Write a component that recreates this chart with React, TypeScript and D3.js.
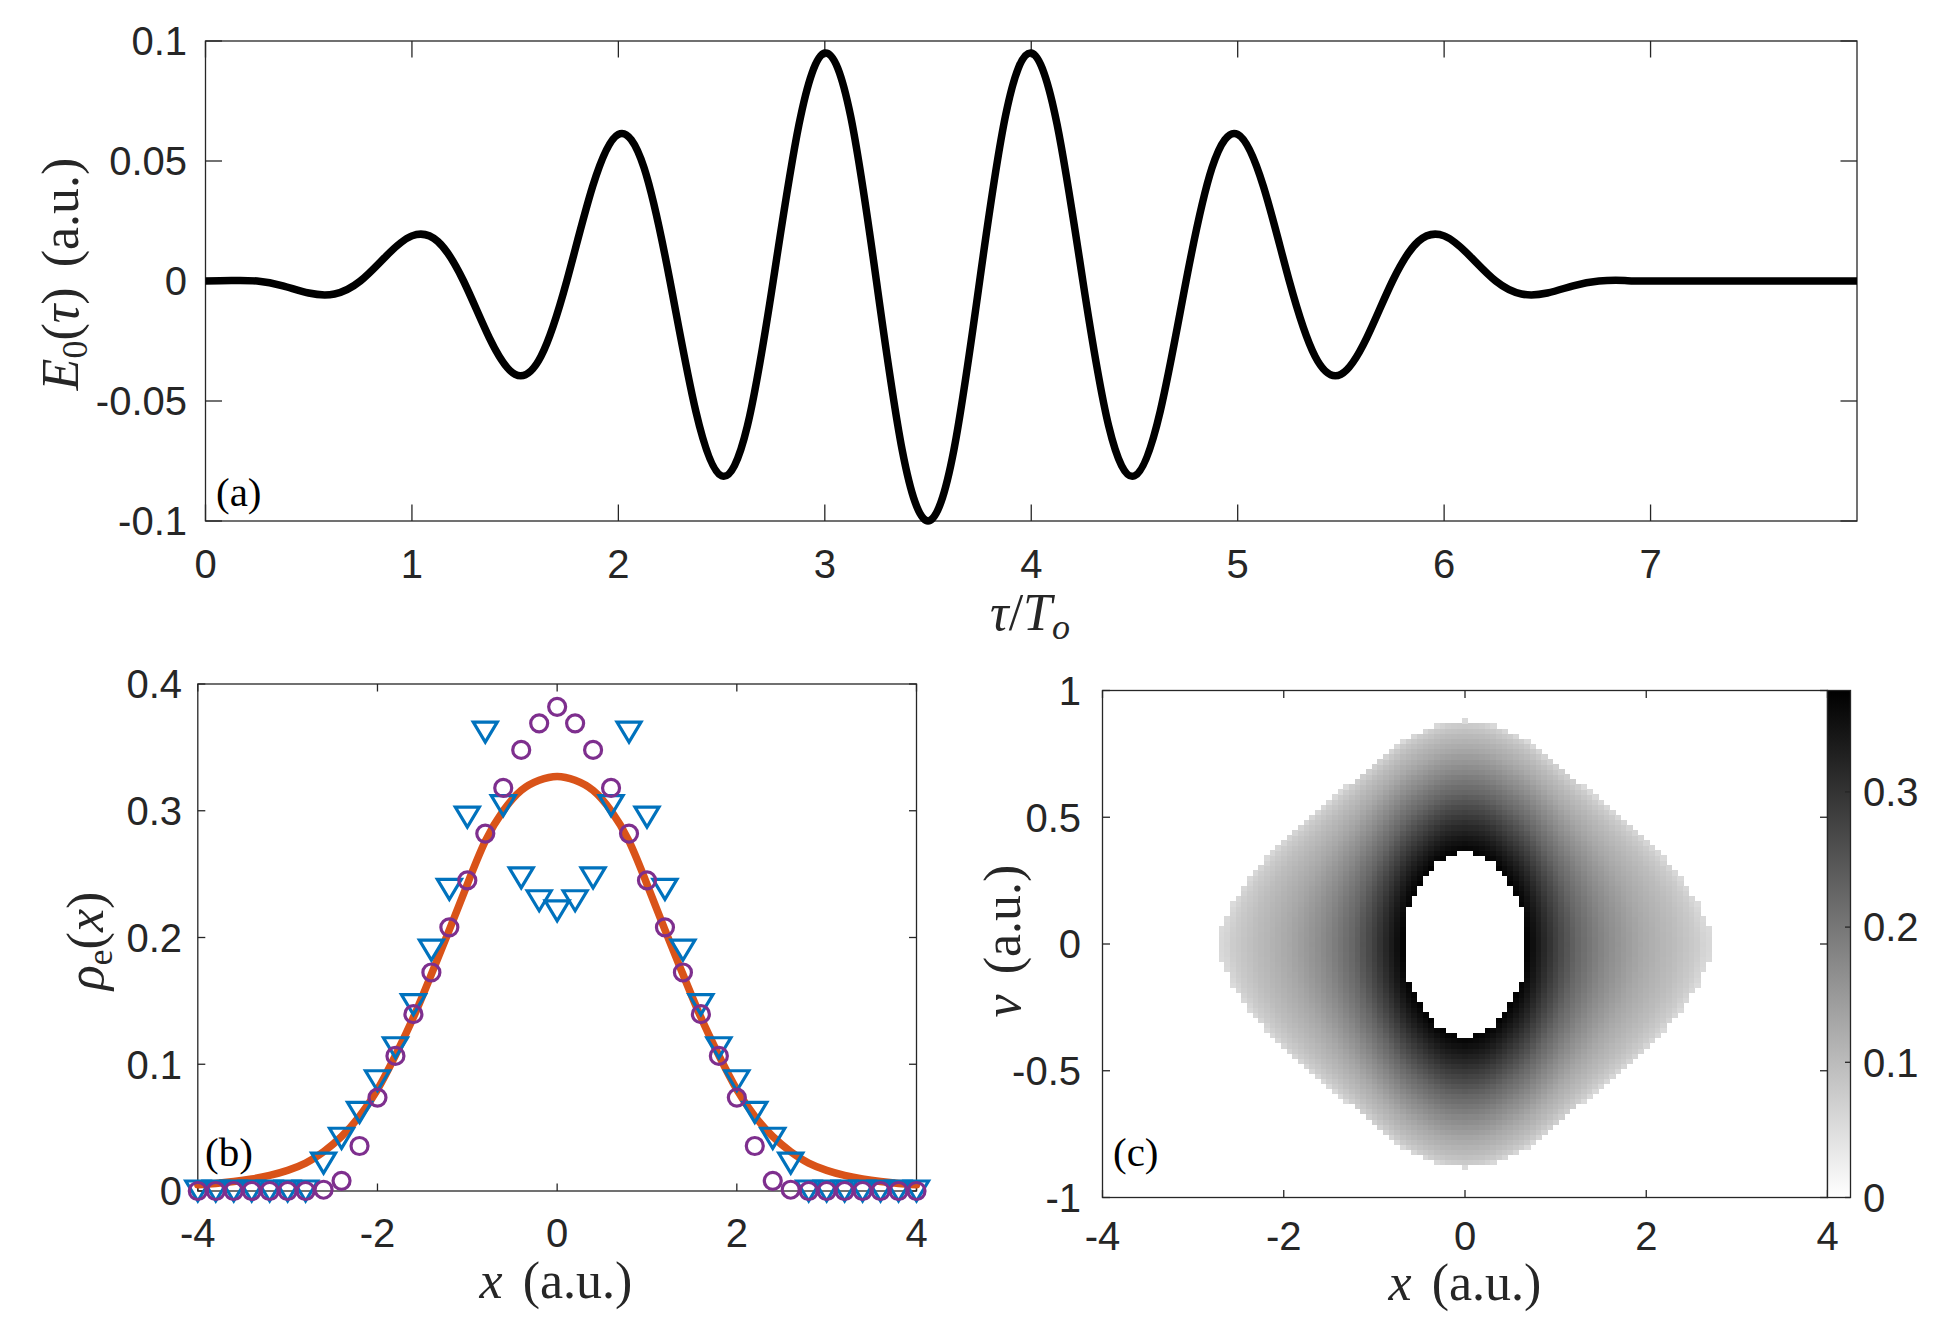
import React, { useMemo } from 'react';
import * as d3 from 'd3';

// ---------- Panel (a) data ----------
const tau = [
  0, 0.125, 0.25, 0.375, 0.5, 0.625, 0.75, 0.875,
  1, 1.125, 1.25, 1.375, 1.5, 1.625, 1.75, 1.875,
  2, 2.125, 2.25, 2.375, 2.5, 2.625, 2.75, 2.875,
  3, 3.125, 3.25, 3.375, 3.5, 3.625, 3.75, 3.875,
  4, 4.125, 4.25, 4.375, 4.5, 4.625, 4.75, 4.875,
  5, 5.125, 5.25, 5.375, 5.5, 5.625, 5.75, 5.875,
  6, 6.125, 6.25, 6.375, 6.5, 6.625, 6.75, 6.875,
  7, 7.5, 8,
];
const efield = [
  0, 0.0002, 0, -0.002, -0.005, -0.0054, 0, 0.0104,
  0.0188, 0.0165, 0, -0.0237, -0.0389, -0.0314, 0, 0.0393,
  0.0611, 0.047, 0, -0.0542, -0.0812, -0.0604, 0, 0.0653,
  0.095, 0.0687, 0, -0.0705, -0.1, -0.0705, 0, 0.0687,
  0.095, 0.0653, 0, -0.0604, -0.0812, -0.0542, 0, 0.047,
  0.0611, 0.0393, 0, -0.0314, -0.0389, -0.0237, 0, 0.0165,
  0.0188, 0.0104, 0, -0.0054, -0.005, -0.002, 0, 0.0002,
  0, 0, 0,
];
const aXTicks = [0, 1, 2, 3, 4, 5, 6, 7];
const aYTicks = [-0.1, -0.05, 0, 0.05, 0.1];
const aYTickLabels = ['-0.1', '-0.05', '0', '0.05', '0.1'];

// ---------- Panel (b) data ----------
const bX = [
  -4, -3.8, -3.6, -3.4, -3.2, -3, -2.8, -2.6, -2.4, -2.2, -2, -1.8, -1.6, -1.4, -1.2, -1, -0.8, -0.6, -0.4, -0.2,
  0, 0.2, 0.4, 0.6, 0.8, 1, 1.2, 1.4, 1.6, 1.8, 2, 2.2, 2.4, 2.6, 2.8, 3, 3.2, 3.4, 3.6, 3.8, 4,
];
const bCurve = [
  0.005, 0.006, 0.0075, 0.0095, 0.0123, 0.0163, 0.022, 0.031, 0.043, 0.059, 0.08, 0.107, 0.137, 0.171, 0.206, 0.242, 0.276, 0.3, 0.316, 0.324,
  0.327, 0.324, 0.316, 0.3, 0.276, 0.242, 0.206, 0.171, 0.137, 0.107, 0.08, 0.059, 0.043, 0.031, 0.022, 0.0163, 0.0123, 0.0095, 0.0075, 0.006, 0.005,
];
const bCircles = [
  0, 0, 0, 0, 0, 0, 0, 0.001, 0.008, 0.0355, 0.0737, 0.1066, 0.1395, 0.1724, 0.208, 0.245, 0.282, 0.318, 0.348, 0.369,
  0.382, 0.369, 0.348, 0.318, 0.282, 0.245, 0.208, 0.1724, 0.1395, 0.1066, 0.0737, 0.0355, 0.008, 0.001, 0, 0, 0, 0, 0, 0, 0,
];
const bTriangles = [
  0, 0, 0, 0, 0, 0, 0, 0.022, 0.0416, 0.062, 0.087, 0.113, 0.147, 0.19, 0.238, 0.295, 0.362, 0.304, 0.247, 0.229,
  0.221, 0.229, 0.247, 0.304, 0.362, 0.295, 0.238, 0.19, 0.147, 0.113, 0.087, 0.062, 0.0416, 0.022, 0, 0, 0, 0, 0, 0, 0,
];
const bXTicks = [-4, -2, 0, 2, 4];
const bYTicks = [0, 0.1, 0.2, 0.3, 0.4];

// ---------- Panel (c) data ----------
// effective potential read from the outer boundary of the phase-space patch
const cPotX = [0, 0.15, 0.3, 0.5, 0.66, 0.956, 1.214, 1.472, 1.694, 1.952, 2.173, 2.358, 2.506, 2.616, 2.72, 2.85];
const cPotV = [0, 0.0035, 0.014, 0.039, 0.062, 0.123, 0.177, 0.224, 0.2595, 0.296, 0.327, 0.351, 0.369, 0.381, 0.388, 0.41];
// density as a function of energy (read along the v = 0 row)
const cDensE = [0.067, 0.09, 0.13, 0.18, 0.235, 0.295, 0.35, 0.375, 0.39];
const cDensVal = [0.372, 0.34, 0.285, 0.225, 0.175, 0.128, 0.095, 0.075, 0.05];
const cEmin = 0.067;
const cEmax = 0.388;
const cXTicks = [-4, -2, 0, 2, 4];
const cYTicks = [-1, -0.5, 0, 0.5, 1];
const cYTickLabels = ['-1', '-0.5', '0', '0.5', '1'];
const cbTicks = [0, 0.1, 0.2, 0.3];
const cbMax = 0.375;

const SANS = "'Liberation Sans', Arial, Helvetica, sans-serif";
const SERIF = "'Liberation Serif', 'Times New Roman', serif";
const AX = '#262626';
const TICK_FS = 40;
const TICK_DY = 14.3;
const LAB_FS = 52;
const SUB_FS = 36;

function Frame({ x0, x1, y0, y1, xt, yt, len }: any) {
  return (
    <g stroke={AX} strokeWidth={1.3} fill="none">
      <rect x={x0} y={y0} width={x1 - x0} height={y1 - y0} />
      {xt.map((p: number, i: number) => (
        <g key={'x' + i}>
          <line x1={p} x2={p} y1={y1} y2={y1 - len} />
          <line x1={p} x2={p} y1={y0} y2={y0 + len} />
        </g>
      ))}
      {yt.map((p: number, i: number) => (
        <g key={'y' + i}>
          <line x1={x0} x2={x0 + len} y1={p} y2={p} />
          <line x1={x1} x2={x1 - len} y1={p} y2={p} />
        </g>
      ))}
    </g>
  );
}

export default function App() {
  // ---- scales ----
  const ax = d3.scaleLinear().domain([0, 8]).range([205.5, 1857]);
  const ay = d3.scaleLinear().domain([-0.1, 0.1]).range([521, 41]);
  const bx = d3.scaleLinear().domain([-4, 4]).range([197.8, 916.5]);
  const by = d3.scaleLinear().domain([0, 0.4]).range([1191, 684]);
  const cx = d3.scaleLinear().domain([-4, 4]).range([1102.5, 1827.5]);
  const cy = d3.scaleLinear().domain([-1, 1]).range([1197.5, 690.5]);
  const cbY = d3.scaleLinear().domain([0, cbMax]).range([1197.5, 690.5]);

  const aPath = d3
    .line<number>()
    .x((_, i) => ax(tau[i]))
    .y((d) => ay(d))
    .curve(d3.curveNatural)(efield) as string;

  const bPath = d3
    .line<number>()
    .x((_, i) => bx(bX[i]))
    .y((d) => by(d))
    .curve(d3.curveNatural)(bCurve) as string;

  const cells = useMemo(() => {
    const pot = d3.scaleLinear().domain(cPotX).range(cPotV).clamp(true);
    const dens = d3.scaleLinear().domain(cDensE).range(cDensVal).clamp(true);
    const col = d3.scaleLinear<string>().domain([0, cbMax]).range(['#ffffff', '#000000']).clamp(true);
    const dx = 0.0625;
    const dv = 0.02;
    const xs = d3.range(-64, 65).map((k) => k * dx);
    const vs = d3.range(-50, 51).map((k) => k * dv);
    const out: { x: number; y: number; w: number; h: number; f: string }[] = [];
    const w = cx(dx) - cx(0);
    const h = cy(0) - cy(dv);
    for (const v of vs) {
      for (const x of xs) {
        const E = pot(Math.abs(x)) + (v * v) / 2;
        if (E < cEmin || E > cEmax) continue;
        const val = dens(E);
        out.push({ x: cx(x) - w / 2, y: cy(v) - h / 2, w: w + 0.6, h: h + 0.6, f: col(val) });
      }
    }
    return out;
  }, []);

  const tri = (px: number, py: number) => {
    const w = 24, h = 20;
    return `M${px - w / 2},${py - h / 2}L${px + w / 2},${py - h / 2}L${px},${py + h / 2}Z`;
  };

  return (
    <svg
      width={1942}
      height={1330}
      style={{ position: 'absolute', left: 0, top: 0, background: '#fff', display: 'block' }}
    >
      <defs>
        <linearGradient id="cbg" x1="0" y1="1" x2="0" y2="0">
          <stop offset="0" stopColor="#ffffff" />
          <stop offset="1" stopColor="#000000" />
        </linearGradient>
      </defs>
      <rect x={0} y={0} width={1942} height={1330} fill="#fff" />

      {/* ---------------- Panel (a) ---------------- */}
      <Frame x0={205.5} x1={1857} y0={41} y1={521} xt={aXTicks.map(ax)} yt={aYTicks.map(ay)} len={16.5} />
      <path d={aPath} fill="none" stroke="#000" strokeWidth={7.5} strokeLinejoin="round" />
      <g fontFamily={SANS} fontSize={TICK_FS} fill={AX}>
        {aYTicks.map((t, i) => (
          <text key={i} x={187} y={ay(t) + TICK_DY} textAnchor="end">{aYTickLabels[i]}</text>
        ))}
        {aXTicks.map((t, i) => (
          <text key={i} x={ax(t)} y={578} textAnchor="middle">{String(t)}</text>
        ))}
      </g>
      <text transform="translate(78,274) rotate(-90)" textAnchor="middle" fontFamily={SERIF} fontSize={LAB_FS} fill={AX}>
        <tspan fontStyle="italic">E</tspan>
        <tspan fontSize={SUB_FS} dy={9}>0</tspan>
        <tspan dy={-9}>(</tspan>
        <tspan fontStyle="italic">τ</tspan>
        <tspan>)</tspan>
        <tspan dx={20}>(a.u.)</tspan>
      </text>
      <text x={1030} y={630} textAnchor="middle" fontFamily={SERIF} fontSize={LAB_FS} fill={AX}>
        <tspan fontStyle="italic">τ</tspan>
        <tspan>/</tspan>
        <tspan fontStyle="italic">T</tspan>
        <tspan fontStyle="italic" fontSize={SUB_FS} dy={9}>o</tspan>
      </text>
      <text x={216} y={506} fontFamily={SERIF} fontSize={41} fill="#000">(a)</text>

      {/* ---------------- Panel (b) ---------------- */}
      <Frame x0={197.8} x1={916.5} y0={684} y1={1191} xt={bXTicks.map(bx)} yt={bYTicks.map(by)} len={7.5} />
      <path d={bPath} fill="none" stroke="#D95319" strokeWidth={7.5} strokeLinecap="round" />
      <g fill="none" stroke="#0072BD" strokeWidth={3.2} strokeLinejoin="miter">
        {bX.map((x, i) => (
          <path key={i} d={tri(bx(x), by(bTriangles[i]))} />
        ))}
      </g>
      <g fill="none" stroke="#7E2F8E" strokeWidth={3.2}>
        {bX.map((x, i) => (
          <circle key={i} cx={bx(x)} cy={by(bCircles[i])} r={8.5} />
        ))}
      </g>
      <g fontFamily={SANS} fontSize={TICK_FS} fill={AX}>
        {bYTicks.map((t, i) => (
          <text key={i} x={182} y={by(t) + TICK_DY} textAnchor="end">{String(t)}</text>
        ))}
        {bXTicks.map((t, i) => (
          <text key={i} x={bx(t)} y={1247} textAnchor="middle">{String(t)}</text>
        ))}
      </g>
      <text transform="translate(103,941) rotate(-90)" textAnchor="middle" fontFamily={SERIF} fontSize={LAB_FS} fill={AX}>
        <tspan fontStyle="italic">ρ</tspan>
        <tspan fontSize={SUB_FS} dy={9}>e</tspan>
        <tspan dy={-9}>(</tspan>
        <tspan fontStyle="italic">x</tspan>
        <tspan>)</tspan>
      </text>
      <text x={556} y={1298} textAnchor="middle" fontFamily={SERIF} fontSize={LAB_FS} fill={AX}>
        <tspan fontStyle="italic">x</tspan>
        <tspan dx={20}>(a.u.)</tspan>
      </text>
      <text x={205} y={1166} fontFamily={SERIF} fontSize={41} fill="#000">(b)</text>

      {/* ---------------- Panel (c) ---------------- */}
      <g shapeRendering="crispEdges">
        {cells.map((c, i) => (
          <rect key={i} x={c.x} y={c.y} width={c.w} height={c.h} fill={c.f} />
        ))}
      </g>
      <Frame x0={1102.5} x1={1827.5} y0={690.5} y1={1197.5} xt={cXTicks.map(cx)} yt={cYTicks.map(cy)} len={7.5} />
      <rect x={1827.5} y={690.5} width={23} height={507} fill="url(#cbg)" stroke={AX} strokeWidth={1.3} />
      <g stroke={AX} strokeWidth={1.3}>
        {cbTicks.map((t, i) => (
          <line key={i} x1={1850.5} x2={1845} y1={cbY(t)} y2={cbY(t)} />
        ))}
      </g>
      <g fontFamily={SANS} fontSize={TICK_FS} fill={AX}>
        {cYTicks.map((t, i) => (
          <text key={i} x={1081} y={cy(t) + TICK_DY} textAnchor="end">{cYTickLabels[i]}</text>
        ))}
        {cXTicks.map((t, i) => (
          <text key={i} x={cx(t)} y={1250} textAnchor="middle">{String(t)}</text>
        ))}
        {cbTicks.map((t, i) => (
          <text key={i} x={1863} y={cbY(t) + TICK_DY} textAnchor="start">{String(t)}</text>
        ))}
      </g>
      <text transform="translate(1020,941) rotate(-90)" textAnchor="middle" fontFamily={SERIF} fontSize={LAB_FS} fill={AX}>
        <tspan fontStyle="italic">v</tspan>
        <tspan dx={20}>(a.u.)</tspan>
      </text>
      <text x={1465} y={1300} textAnchor="middle" fontFamily={SERIF} fontSize={LAB_FS} fill={AX}>
        <tspan fontStyle="italic">x</tspan>
        <tspan dx={20}>(a.u.)</tspan>
      </text>
      <text x={1113} y={1166} fontFamily={SERIF} fontSize={41} fill="#000">(c)</text>
    </svg>
  );
}
